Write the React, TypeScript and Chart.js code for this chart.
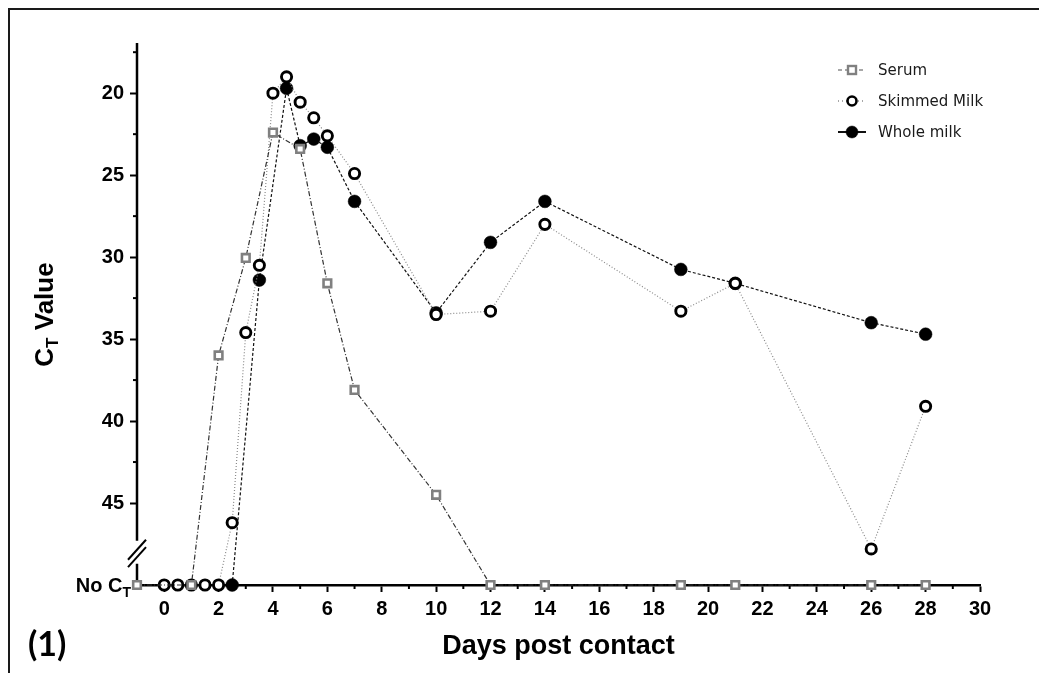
import React, { useEffect, useRef } from 'react';
import { Chart, registerables } from 'chart.js';

Chart.register(...registerables);

// ---- Data ----
const DAYS_SERUM = [-1, 1, 2, 3, 4, 5, 6, 7, 10, 12, 14, 19, 21, 26, 28];
const CT_SERUM = [50, 50, 36.0, 30.05, 22.4, 23.4, 31.6, 38.1, 44.5, 50, 50, 50, 50, 50, 50];

const DAYS_SKIMMED = [0, 0.5, 1, 1.5, 2, 2.5, 3, 3.5, 4, 4.5, 5, 5.5, 6, 7, 10, 12, 14, 19, 21, 26, 28];
const CT_SKIMMED = [50, 50, 50, 50, 50, 46.2, 34.6, 30.5, 20.0, 19.0, 20.55, 21.5, 22.6, 24.9, 33.5, 33.3, 28.0, 33.3, 31.6, 47.8, 39.1];

const DAYS_WHOLE = [2.5, 3.5, 4.5, 5, 5.5, 6, 7, 10, 12, 14, 19, 21, 26, 28];
const CT_WHOLE = [50, 31.4, 19.7, 23.2, 22.8, 23.3, 26.6, 33.4, 29.1, 26.6, 30.75, 31.6, 34.0, 34.7];

const SERIES_NAMES = ['Serum', 'Skimmed Milk', 'Whole milk'];

const NO_CT = 50;
const Y_MIN = 17;
const X_MIN = -1;
const X_MAX = 30;
const Y_MAJOR_TICKS = [20, 25, 30, 35, 40, 45];
const Y_MINOR_TICKS = [17.5, 22.5, 27.5, 32.5, 37.5, 42.5];
const X_TICKS = [0, 1, 2, 3, 4, 5, 6, 7, 8, 9, 10, 11, 12, 13, 14, 15, 16, 17, 18, 19, 20, 21, 22, 23, 24, 25, 26, 27, 28, 29, 30];
const X_LABEL_STEP = 2;
const AXIS_BREAK = [47.3, 48.7];
const BREAK_MARKS = [47.85, 48.3];

const FONT = '"Liberation Sans", Arial, Helvetica, sans-serif';

const toPoints = (xs: number[], ys: number[]) => xs.map((x, i) => ({ x, y: ys[i] }));

const STYLES = [
  { line: '#333333', dash: [5, 2, 1, 2], point: 'rect', radius: 5.4, bw: 2.6, border: '#808080', bg: '#ffffff' },
  { line: '#8a8a8a', dash: [1, 2], point: 'circle', radius: 5.1, bw: 2.9, border: '#000000', bg: '#ffffff' },
  { line: '#111111', dash: [3, 2], point: 'circle', radius: 6.4, bw: 0.5, border: '#000000', bg: '#000000' },
];

function drawSub(ctx: CanvasRenderingContext2D, main: string, sub: string, rest: string, size: number, subSize: number, subShift: number, x: number, y: number, align: 'center' | 'right') {
  ctx.font = `bold ${size}px ${FONT}`;
  const w1 = ctx.measureText(main).width;
  const w3 = ctx.measureText(rest).width;
  ctx.font = `bold ${subSize}px ${FONT}`;
  const w2 = ctx.measureText(sub).width;
  const total = w1 + w2 + w3;
  const sx = align === 'center' ? x - total / 2 : x - total;
  ctx.textAlign = 'left';
  ctx.textBaseline = 'alphabetic';
  ctx.font = `bold ${size}px ${FONT}`;
  ctx.fillText(main, sx, y);
  ctx.font = `bold ${subSize}px ${FONT}`;
  ctx.fillText(sub, sx + w1, y + subShift);
  ctx.font = `bold ${size}px ${FONT}`;
  ctx.fillText(rest, sx + w1 + w2, y);
}

const overlay = {
  id: 'overlay',
  beforeDatasetsDraw(chart: any) {
    const { ctx, scales } = chart;
    const x = scales.x;
    const y = scales.y;
    const L = x.getPixelForValue(X_MIN);
    ctx.save();
    ctx.strokeStyle = '#000';
    ctx.lineWidth = 2.5;
    ctx.beginPath();
    ctx.moveTo(L, y.getPixelForValue(Y_MIN) - 1);
    ctx.lineTo(L, y.getPixelForValue(AXIS_BREAK[0]));
    ctx.moveTo(L, y.getPixelForValue(AXIS_BREAK[1]));
    ctx.lineTo(L, y.getPixelForValue(NO_CT));
    ctx.stroke();
    ctx.lineWidth = 2;
    for (const v of BREAK_MARKS) {
      const py = y.getPixelForValue(v);
      ctx.beginPath();
      ctx.moveTo(L - 9, py + 10);
      ctx.lineTo(L + 9, py - 10);
      ctx.stroke();
    }
    // minor ticks
    ctx.lineWidth = 2;
    for (const v of Y_MINOR_TICKS) {
      const py = y.getPixelForValue(v);
      ctx.beginPath();
      ctx.moveTo(L - 4, py);
      ctx.lineTo(L, py);
      ctx.stroke();
    }
    const B = y.getPixelForValue(NO_CT);
    for (const v of X_TICKS) {
      if (v % X_LABEL_STEP === 0) continue;
      const px = x.getPixelForValue(v);
      ctx.beginPath();
      ctx.moveTo(px, B);
      ctx.lineTo(px, B + 4);
      ctx.stroke();
    }
    ctx.restore();
  },
  afterDraw(chart: any) {
    const { ctx, chartArea, scales } = chart;
    const x = scales.x;
    const y = scales.y;
    ctx.save();
    // figure frame
    ctx.strokeStyle = '#1a1a1a';
    ctx.lineWidth = 2;
    ctx.beginPath();
    ctx.moveTo(9, 673);
    ctx.lineTo(9, 9);
    ctx.lineTo(1039, 9);
    ctx.stroke();

    ctx.fillStyle = '#000';
    // No CT label
    const L = x.getPixelForValue(X_MIN);
    drawSub(ctx, 'No C', 'T', '', 20, 14, 5, L - 6, y.getPixelForValue(NO_CT) + 7, 'right');

    // y title
    ctx.save();
    ctx.translate(53, (chartArea.top + chartArea.bottom) / 2);
    ctx.rotate(-Math.PI / 2);
    drawSub(ctx, 'C', 'T', ' Value', 26, 17, 5, 0, 0, 'center');
    ctx.restore();

    // x title
    ctx.font = `bold 27px ${FONT}`;
    ctx.textAlign = 'center';
    ctx.textBaseline = 'alphabetic';
    ctx.fillText('Days post contact', (chartArea.left + chartArea.right) / 2, 654);

    // panel label
    ctx.font = `bold 34px Lato, ${FONT}`;
    ctx.textAlign = 'left';
    ctx.fillText('(1)', 28, 656);

    // legend
    const items = [70, 101, 132];
    chart.data.datasets.forEach((ds: any, i: number) => {
      const st = STYLES[i];
      const cy = items[i];
      const cx = 852;
      ctx.save();
      ctx.strokeStyle = i === 0 ? '#8a8a8a' : st.line;
      ctx.lineWidth = i === 2 ? 2 : 1.5;
      ctx.setLineDash(i === 2 ? [] : i === 0 ? [4, 3] : [1, 3]);
      ctx.beginPath();
      ctx.moveTo(cx - 14, cy);
      ctx.lineTo(cx + 14, cy);
      ctx.stroke();
      ctx.restore();
      ctx.save();
      if (st.point === 'rect') {
        ctx.fillStyle = '#fff';
        ctx.strokeStyle = st.border;
        ctx.lineWidth = 2.4;
        ctx.fillRect(cx - 4, cy - 4, 8, 8);
        ctx.strokeRect(cx - 4, cy - 4, 8, 8);
      } else {
        ctx.beginPath();
        ctx.arc(cx, cy, i === 2 ? 6 : 4.5, 0, Math.PI * 2);
        ctx.fillStyle = st.bg;
        ctx.fill();
        ctx.strokeStyle = '#000';
        ctx.lineWidth = i === 2 ? 0.5 : 2.6;
        ctx.stroke();
      }
      ctx.restore();
      ctx.fillStyle = '#1a1a1a';
      ctx.font = `15px "DejaVu Sans", ${FONT}`;
      ctx.textAlign = 'left';
      ctx.textBaseline = 'middle';
      ctx.fillText(ds.label, 878, cy + 1);
    });
    ctx.restore();
  },
};

export default function App() {
  const ref = useRef<HTMLCanvasElement | null>(null);
  useEffect(() => {
    if (!ref.current) return;
    const seriesX = [DAYS_SERUM, DAYS_SKIMMED, DAYS_WHOLE];
    const seriesY = [CT_SERUM, CT_SKIMMED, CT_WHOLE];
    const datasets = SERIES_NAMES.map((name, i) => {
      const st = STYLES[i];
      return {
        label: name,
        data: toPoints(seriesX[i], seriesY[i]),
        borderColor: st.line,
        borderWidth: 1.2,
        borderDash: st.dash,
        pointStyle: st.point,
        pointRadius: st.radius,
        pointBorderWidth: st.bw,
        pointBorderColor: st.border,
        pointBackgroundColor: st.bg,
        backgroundColor: st.bg,
        showLine: true,
        fill: false,
        tension: 0,
        clip: false,
      };
    });
    const chart = new Chart(ref.current, {
      type: 'scatter',
      data: { datasets } as any,
      options: {
        responsive: false,
        animation: false,
        events: [],
        layout: { padding: { left: 0, top: 44, right: 59, bottom: 0 } },
        plugins: { legend: { display: false }, tooltip: { enabled: false }, title: { display: false } },
        scales: {
          x: {
            type: 'linear',
            min: X_MIN,
            max: X_MAX,
            afterBuildTicks: (s: any) => { s.ticks = X_TICKS.map((v) => ({ value: v })); },
            afterFit: (s: any) => { s.height = 88; },
            border: { display: true, color: '#000', width: 2.5 },
            grid: {
              drawOnChartArea: false,
              drawTicks: true,
              tickLength: 7,
              tickWidth: 2,
              tickColor: (c: any) => (c.tick && c.tick.value % X_LABEL_STEP === 0 ? '#000' : 'rgba(0,0,0,0)'),
            },
            ticks: {
              autoSkip: false,
              maxRotation: 0,
              padding: 5,
              color: '#000',
              font: { family: FONT, size: 20, weight: 'bold' },
              callback: (v: any) => (Number(v) % X_LABEL_STEP === 0 ? String(v) : ''),
            },
          },
          y: {
            type: 'linear',
            reverse: true,
            min: Y_MIN,
            max: NO_CT,
            afterBuildTicks: (s: any) => { s.ticks = Y_MAJOR_TICKS.map((v) => ({ value: v })); },
            afterFit: (s: any) => { s.width = 137; },
            border: { display: false },
            grid: {
              drawOnChartArea: false,
              drawTicks: true,
              tickLength: 7,
              tickWidth: 2,
              tickColor: '#000',
            },
            ticks: {
              padding: 6,
              color: '#000',
              font: { family: FONT, size: 20, weight: 'bold' },
              callback: (v: any) => String(v),
            },
          },
        },
      } as any,
      plugins: [overlay],
    });
    return () => chart.destroy();
  }, []);
  return (
    <div style={{ position: 'fixed', left: 0, top: 0, width: 1039, height: 673, background: '#fff' }}>
      <canvas ref={ref} width={1039} height={673} style={{ display: 'block' }} />
    </div>
  );
}
